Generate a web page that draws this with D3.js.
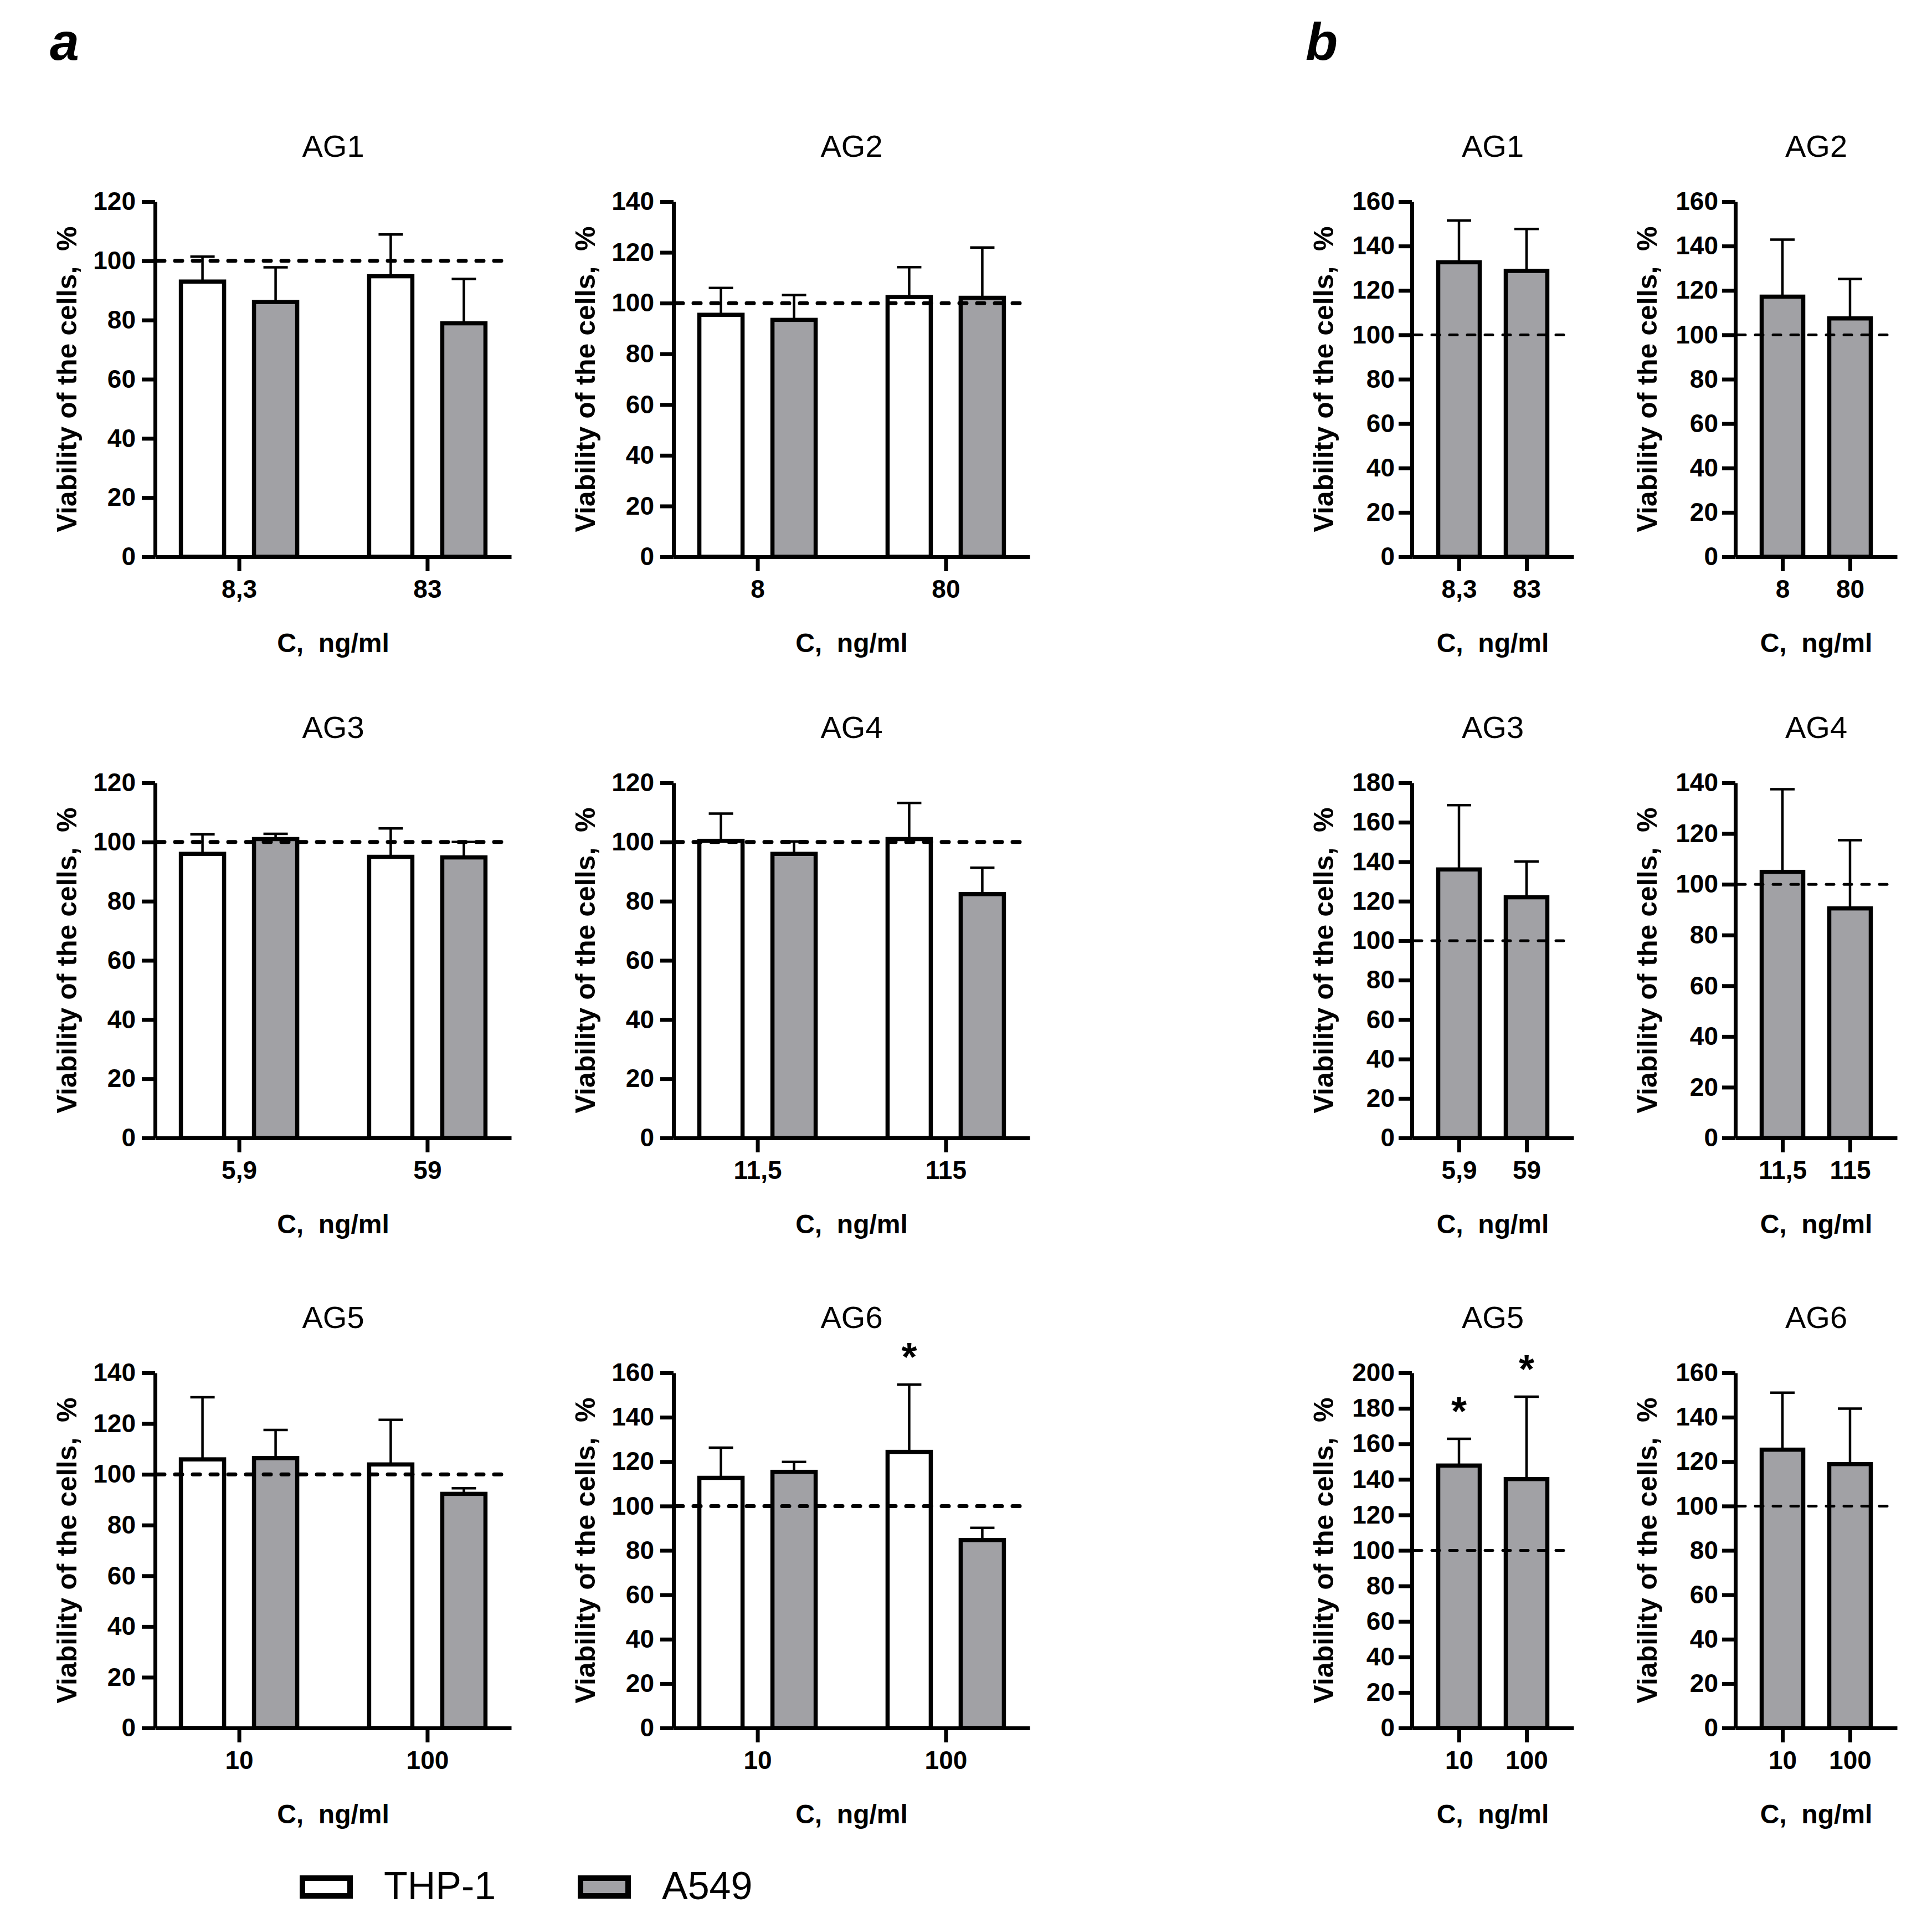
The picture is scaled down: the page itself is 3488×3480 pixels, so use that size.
<!DOCTYPE html>
<html>
<head>
<meta charset="utf-8">
<script src="https://cdn.jsdelivr.net/npm/d3@7"></script>
<style>
  body { margin: 0; background: #fff; }
  text { font-family: "Liberation Sans", Arial, sans-serif; }
</style>
</head>
<body>
<div id="chart"></div>
<script>
const W = 3488
const H = 3480

// ---- data ----
const titles = ['AG1', 'AG2', 'AG3', 'AG4', 'AG5', 'AG6']
const doses = [['8,3', '83'], ['8', '80'], ['5,9', '59'], ['11,5', '115'], ['10', '100'], ['10', '100']]
const seriesNames = ['THP-1', 'A549']

// panel a (THP-1 and A549)
const yMaxA = [120, 140, 120, 120, 140, 160]
const thpMean = [[93, 94.8], [95.4, 102.4], [96, 95], [100.4, 101], [105.9, 103.9], [112.7, 124.4]]
const thpSd = [[8.4, 14.1], [10.6, 11.8], [6.6, 9.6], [9.2, 12.2], [24.5, 17.6], [13.6, 30.3]]
const a549Mean = [[86.1, 78.9], [93.4, 102.1], [101, 94.8], [96, 82.4], [106.4, 92.3], [115.4, 84.7]]
const a549Sd = [[11.7, 15], [9.8, 19.8], [1.8, 5.2], [4.2, 8.9], [11.1, 2.2], [4.5, 5.5]]
const starsA = [[], [], [], [], [], [['THP-1', 1]]]

// panel b (A549 only)
const yMaxB = [160, 160, 180, 140, 200, 160]
const bMean = [[132.7, 128.8], [117.2, 107.4], [136.1, 122], [104.9, 90.5], [147.8, 140.2], [125.4, 118.9]]
const bSd = [[18.8, 18.9], [25.7, 17.8], [32.6, 18.1], [32.6, 26.9], [15.1, 46.4], [25.7, 25]]
const starsB = [[], [], [], [], [0, 1], []]

const refLine = 100

// ---- layout ----
const rowTop = [364, 1413, 2478]
const plotH = 641
const colA = [280, 1216]
const widthA = 643
const colB = [2549, 3133]
const widthB = 292
const gray = '#a1a1a5'

const svg = d3.select('#chart')
  .append('svg')
  .attr('width', W)
  .attr('height', H)
  .style('background', '#fff')

function drawPanel (opts) {
  const g = svg.append('g').attr('transform', `translate(${opts.x}, ${opts.y})`)
  const w = opts.width

  const x = d3.scalePoint().domain(opts.doses).range([0, w]).padding(opts.pad)
  const y = d3.scaleLinear().domain([0, opts.yMax]).range([plotH, 0])

  // title
  g.append('text')
    .attr('x', w / 2).attr('y', -81)
    .attr('text-anchor', 'middle')
    .style('font-size', '56px')
    .text(opts.title)

  // axes
  const yAxis = g.append('g')
    .call(d3.axisLeft(y).ticks(opts.yMax / 20).tickSize(24).tickSizeOuter(0).tickPadding(opts.yPad))
  const xAxis = g.append('g')
    .attr('transform', `translate(0, ${plotH})`)
    .call(d3.axisBottom(x).tickSize(26).tickSizeOuter(0).tickPadding(15))

  ;[yAxis, xAxis].forEach(ax => {
    ax.select('.domain').attr('stroke-width', 7).attr('stroke', '#000')
    ax.selectAll('.tick line').attr('stroke-width', 7).attr('stroke', '#000')
    ax.selectAll('.tick text')
      .attr('fill', '#000')
      .style('font-size', '46px')
      .style('font-weight', 'bold')
  })

  // axis titles
  g.append('text')
    .attr('transform', `translate(-142, ${plotH / 2}) rotate(-90)`)
    .attr('text-anchor', 'middle')
    .style('font-size', '50px')
    .style('font-weight', 'bold')
    .style('white-space', 'pre')
    .text('Viability of the cells,  %')

  g.append('text')
    .attr('x', w / 2).attr('y', plotH + 172)
    .attr('text-anchor', 'middle')
    .style('font-size', '48px')
    .style('font-weight', 'bold')
    .style('white-space', 'pre')
    .text('C,  ng/ml')

  // bars
  const sub = d3.scaleBand().domain(opts.series.map(s => s.name)).range(opts.subRange).paddingInner(opts.subPad)
  const bars = []
  opts.series.forEach(s => {
    opts.doses.forEach((d, i) => {
      bars.push({ name: s.name, dose: d, i, mean: s.mean[i], sd: s.sd[i], fill: s.fill })
    })
  })
  const cx = b => x(b.dose) + sub(b.name) + sub.bandwidth() / 2

  // error bars (upper only)
  const err = g.append('g').attr('stroke', '#000').attr('stroke-width', 4.5)
  err.selectAll('line.v').data(bars).join('line')
    .attr('x1', cx).attr('x2', cx)
    .attr('y1', b => y(b.mean)).attr('y2', b => y(b.mean + b.sd))
  err.selectAll('line.c').data(bars).join('line')
    .attr('x1', b => cx(b) - 22).attr('x2', b => cx(b) + 22)
    .attr('y1', b => y(b.mean + b.sd)).attr('y2', b => y(b.mean + b.sd))

  g.append('g').selectAll('rect').data(bars).join('rect')
    .attr('x', b => x(b.dose) + sub(b.name))
    .attr('width', sub.bandwidth())
    .attr('y', b => y(b.mean))
    .attr('height', b => plotH - y(b.mean))
    .attr('fill', b => b.fill)
    .attr('stroke', '#000')
    .attr('stroke-width', 7.5)

  // reference line at 100 %
  g.append('line')
    .attr('x1', 4).attr('x2', w)
    .attr('y1', y(refLine)).attr('y2', y(refLine))
    .attr('stroke', '#000')
    .attr('stroke-width', opts.dashWidth)
    .attr('stroke-linecap', 'round')
    .attr('stroke-dasharray', opts.dash)

  // significance marks
  const starBars = bars.filter(b => opts.stars.some(s => s[0] === b.name && s[1] === b.i))
  g.selectAll('text.star').data(starBars).join('text')
    .attr('class', 'star')
    .attr('x', cx)
    .attr('y', b => y(b.mean + b.sd) - 25)
    .attr('text-anchor', 'middle')
    .style('font-size', '72px')
    .style('font-weight', 'bold')
    .text('*')
}

titles.forEach((t, k) => {
  const row = Math.floor(k / 2)
  const col = k % 2
  drawPanel({
    x: colA[col], y: rowTop[row], width: widthA, pad: 0.446,
    title: t, doses: doses[k], yMax: yMaxA[k],
    series: [
      { name: seriesNames[0], mean: thpMean[k], sd: thpSd[k], fill: '#fff' },
      { name: seriesNames[1], mean: a549Mean[k], sd: a549Sd[k], fill: gray }
    ],
    subRange: [-105, 105], subPad: 0.409,
    dash: '13,19', dashWidth: 7,
    yPad: 11,
    stars: starsA[k]
  })
  drawPanel({
    x: colB[col], y: rowTop[row], width: widthB, pad: 0.697,
    title: t, doses: doses[k], yMax: yMaxB[k],
    series: [{ name: seriesNames[1], mean: bMean[k], sd: bSd[k], fill: gray }],
    subRange: [-37.5, 37.5], subPad: 0,
    dash: '14,18', dashWidth: 5,
    yPad: 7,
    stars: starsB[k].map(i => [seriesNames[1], i])
  })
})

// panel letters
svg.append('text').attr('x', 90).attr('y', 108)
  .style('font-size', '95px').style('font-weight', 'bold').style('font-style', 'italic')
  .text('a')
svg.append('text').attr('x', 2357).attr('y', 108)
  .style('font-size', '95px').style('font-weight', 'bold').style('font-style', 'italic')
  .text('b')

// legend
const legend = svg.append('g').attr('transform', 'translate(546, 3390)')
const legendItems = legend.selectAll('g').data(seriesNames).join('g')
  .attr('transform', (d, i) => `translate(${i * 502}, 0)`)
legendItems.append('rect')
  .attr('width', 86).attr('height', 32)
  .attr('fill', (d, i) => i === 0 ? '#fff' : gray)
  .attr('stroke', '#000').attr('stroke-width', 10)
legendItems.append('text')
  .attr('x', 147).attr('y', 38)
  .style('font-size', '70px')
  .text(d => d)
</script>
</body>
</html>
